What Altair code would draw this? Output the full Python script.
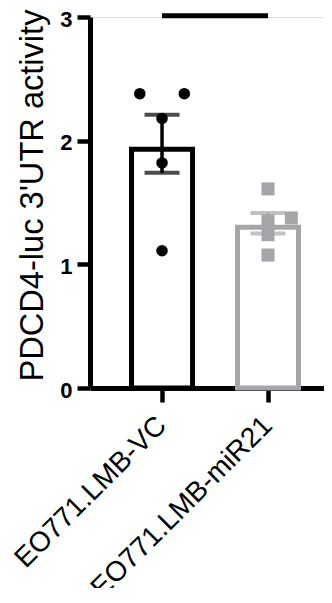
import altair as alt
import pandas as pd

groups = ["EO771.LMB-VC", "EO771.LMB-miR21"]
bar_means = [1.93, 1.30]
err_low = [1.74, 1.25]
err_high = [2.21, 1.415]
bar_colors = ["#000000", "#a6a6aa"]

vc_values = [2.38, 2.38, 2.18, 1.82, 1.11]
vc_offsets = [-0.21, 0.21, 0.0, 0.0, 0.0]
mir_values = [1.61, 1.375, 1.35, 1.24, 1.075]
mir_offsets = [0.0, 0.22, 0.0, 0.0, 0.0]

sig_y = [3.01]

bars = pd.DataFrame({"group": groups, "mean": bar_means, "lo": err_low,
                     "hi": err_high, "color": bar_colors})
pts_vc = pd.DataFrame({"group": groups[0], "value": vc_values, "off": vc_offsets})
pts_mir = pd.DataFrame({"group": groups[1], "value": mir_values, "off": mir_offsets})
sig = pd.DataFrame({"g1": [groups[0]], "g2": [groups[1]], "y": sig_y})

xscale = alt.Scale(domain=groups, paddingInner=0, paddingOuter=0.104, align=0.864)
yscale = alt.Scale(domain=[0, 3], nice=False)

x_axis = alt.Axis(title=None, labelAngle=-45, labelFontSize=28, labelColor="black",
                  labelAlign="right", labelBaseline="middle",
                  tickSize=14, tickWidth=4.5, tickColor="black", labelLimit=0,
                  domainWidth=5, domainColor="black", labelPadding=19,
                  labelFont="Liberation Sans")
y_axis = alt.Axis(title="PDCD4-luc 3'UTR activity", values=[0, 1, 2, 3], format="d",
                  labelFontSize=22, labelFontWeight="bold", labelColor="black",
                  labelPadding=5, tickSize=13, tickWidth=4.5, tickColor="black",
                  labelOffset=2,
                  domainWidth=5, domainColor="black", grid=False,
                  titleFontSize=32.6, titleFontWeight="normal", titleColor="black",
                  titlePadding=10, titleY=178, titleFont="Liberation Sans",
                  labelFont="Liberation Sans")

X = alt.X("group:N", scale=xscale, axis=x_axis, sort=groups)

bar_layer = alt.Chart(bars).mark_bar(size=61, fill="white", strokeWidth=5, strokeJoin="miter").encode(
    x=X,
    y=alt.Y("mean:Q", scale=yscale, axis=y_axis),
    stroke=alt.Color("color:N", scale=None),
)

err_rule = alt.Chart(bars).mark_rule(strokeWidth=3.5).encode(
    x=X, y=alt.Y("lo:Q", scale=yscale), y2="hi:Q",
    color=alt.Color("color:N", scale=None),
)
cap_hi = alt.Chart(bars).mark_tick(size=35, thickness=4).encode(
    x=X, y=alt.Y("hi:Q", scale=yscale), color=alt.Color("color:N", scale=None),
)
cap_lo = alt.Chart(bars).mark_tick(size=35, thickness=4).encode(
    x=X, y=alt.Y("lo:Q", scale=yscale), color=alt.Color("color:N", scale=None),
)

offscale = alt.Scale(domain=[-0.5, 0.5])
vc_layer = alt.Chart(pts_vc).mark_point(shape="circle", filled=True, size=133, color="black", opacity=1).encode(
    x=X, xOffset=alt.XOffset("off:Q", scale=offscale),
    y=alt.Y("value:Q", scale=yscale),
)
mir_layer = alt.Chart(pts_mir).mark_point(shape="square", filled=True, size=170, color="#a6a6aa", opacity=1).encode(
    x=X, xOffset=alt.XOffset("off:Q", scale=offscale),
    y=alt.Y("value:Q", scale=yscale),
)

sig_layer = alt.Chart(sig).mark_rule(strokeWidth=5, color="black").encode(
    x=alt.X("g1:N", scale=xscale, bandPosition=0.5),
    x2=alt.X2("g2:N", bandPosition=0.5),
    y=alt.Y("y:Q", scale=yscale),
)

chart = alt.layer(bar_layer, err_rule, cap_hi, cap_lo, mir_layer, vc_layer, sig_layer).properties(
    width=234, height=371,
    autosize=alt.AutoSizeParams(type="none"),
    padding={"left": 82, "top": 9, "right": 0, "bottom": 200},
).configure_view(stroke=None).configure(font="Liberation Sans")

chart.save("out.html", embed_options={"renderer": "svg", "actions": False})
